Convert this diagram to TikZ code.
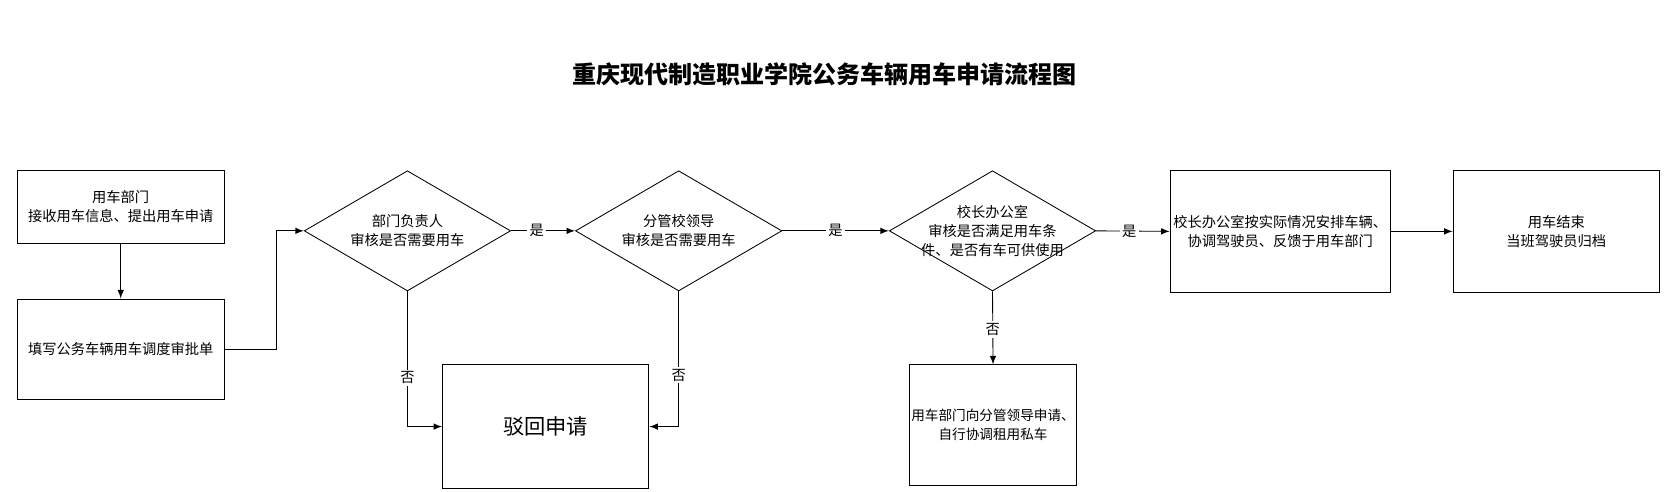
\documentclass[tikz,border=0pt]{standalone}
\usepackage{fontspec}
\setmainfont{Noto Sans CJK SC}
\usetikzlibrary{positioning,arrows,shapes.geometric}
\tikzstyle{pbox}=[rectangle, draw=black, thin, inner sep=1pt, align=center,
                  font=\fontsize{6.7}{9}\selectfont]
\tikzstyle{dbox}=[diamond, draw=black, thin, inner sep=0pt, minimum width=97pt,
                  minimum height=56.5pt]
\tikzstyle{dtext}=[align=center, font=\fontsize{6.7}{9}\selectfont]
\tikzstyle{pline}=[-latex, thin]
\tikzstyle{plabel}=[fill=white, inner sep=1pt, font=\fontsize{6.7}{9}\selectfont]

\begin{document}
\begin{tikzpicture}[x=0.5pt, y=-0.5pt]
\useasboundingbox (0,0) rectangle (1568,462);

\node (TITLE) [font=\fontsize{11.3}{13}\selectfont\bfseries] at (775,70)
 {重庆现代制造职业学院公务车辆用车申请流程图};

\node (APPLY) [pbox, minimum width=97.5pt, minimum height=34.5pt] at (113.5,194.5)
 {用车部门\\接收用车信息、提出用车申请};
\node (FORM) [pbox, minimum width=97.5pt, minimum height=47pt] at (113.5,328)
 {填写公务车辆用车调度审批单};

\node (DEPT) [dbox] at (383,217) {};
\node (DEPTT) [dtext] at (DEPT) {部门负责人\\审核是否需要用车};
\node (LEAD) [dbox] at (638,217) {};
\node (LEADT) [dtext] at (LEAD) {分管校领导\\审核是否需要用车};
\node (OFFICE) [dbox] at (933,217) {};
\node (OFFICET) [dtext] at (OFFICE) {校长办公室\\审核是否满足用车条\\件、是否有车可供使用};

\node (REJECT) [pbox, minimum width=97pt, minimum height=58pt,
 font=\fontsize{10}{12}\selectfont] at (513,401) {驳回申请};
\node (PRIVATE) [pbox, inner sep=0pt, minimum width=78.5pt, minimum height=56.5pt,
 font=\fontsize{6.4}{9}\selectfont] at (933.5,399.5)
 {用车部门向分管领导申请、\\自行协调租用私车};
\node (ARRANGE) [pbox, minimum width=103.5pt, minimum height=57.5pt] at (1203.5,217.5)
 {校长办公室按实际情况安排车辆、\\协调驾驶员、反馈于用车部门};
\node (FINISH) [pbox, minimum width=97pt, minimum height=57.5pt] at (1463,217.5)
 {用车结束\\当班驾驶员归档};

\draw[pline] (APPLY.south) -- (FORM.north);
\draw[pline] (FORM.east) -- ++(48,0) |- (DEPT.west);
\draw[pline] (DEPT.east) -- node[plabel, pos=0.5, xshift=-3pt] {是} (LEAD.west);
\draw[pline] (LEAD.east) -- node[plabel] {是} (OFFICE.west);
\draw[pline] (OFFICE.east) -- node[plabel, pos=0.45] {是} (ARRANGE.west);
\draw[pline] (ARRANGE.east) -- (FINISH.west);
\draw[pline] (DEPT.south) |- node[plabel, pos=0.32] {否} (REJECT.west);
\draw[pline] (LEAD.south) |- node[plabel, pos=0.31] {否} (REJECT.east);
\draw[pline] (OFFICE.south) -- node[plabel, pos=0.52] {否} (PRIVATE.north);

\end{tikzpicture}
\end{document}
